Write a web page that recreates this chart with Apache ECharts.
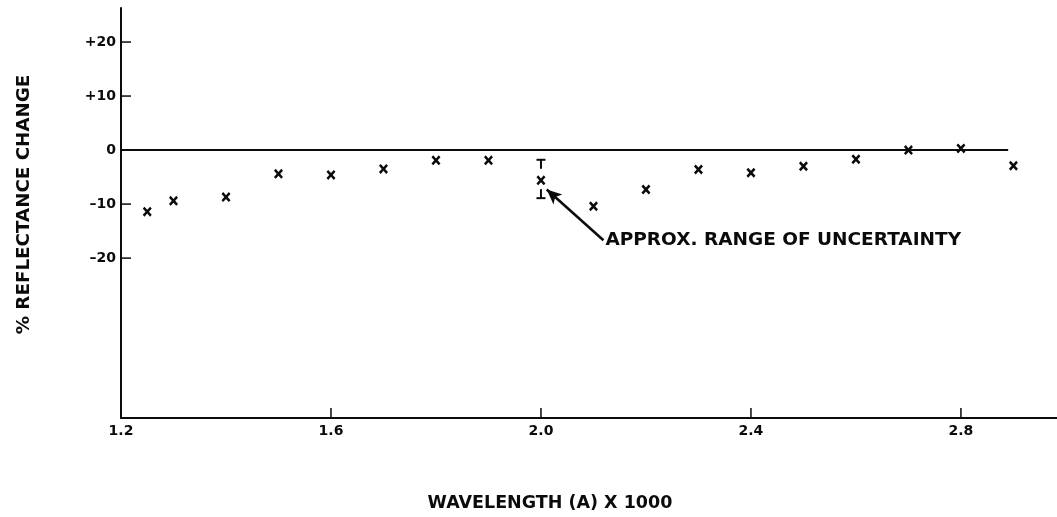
<!DOCTYPE html>
<html>
<head>
<meta charset="utf-8">
<script src="https://cdn.jsdelivr.net/npm/echarts@6/dist/echarts.min.js"></script>
<style>
  html, body { margin: 0; padding: 0; background: #ffffff; }
  #chart { width: 1057px; height: 517px; }
</style>
</head>
<body>
<div id="chart"></div>
<script>
// Measured reflectance change versus wavelength (microns, shown as A x 1000)
const wavelengths = [1.25, 1.3, 1.4, 1.5, 1.6, 1.7, 1.8, 1.9, 2.0, 2.1, 2.2, 2.3, 2.4, 2.5, 2.6, 2.7, 2.8, 2.9];
const reflectanceChange = [-11.4, -9.4, -8.7, -4.4, -4.6, -3.5, -1.9, -1.9, -5.6, -10.4, -7.3, -3.6, -4.2, -3.0, -1.7, 0.0, 0.3, -2.9];

// Uncertainty range drawn at 2.0
const uncertaintyX = [2.0];
const uncertaintyLow = [-8.9];
const uncertaintyHigh = [-1.8];

// Axis ticks
const xTicks = [1.2, 1.6, 2.0, 2.4, 2.8];
const yTicks = [-20, -10, 0, 10, 20];

// Callout
const calloutText = 'APPROX. RANGE OF UNCERTAINTY';
const calloutTip = [2.011, -7.3];
const calloutTail = [2.119, -16.7];

const X_MIN = 1.2, X_MAX = 2.983;
const Y_MIN = -49.6, Y_MAX = 26.3;

const INK = '#0b0b0b';
const FONT = '"DejaVu Sans", "Liberation Sans", sans-serif';

const chart = echarts.init(document.getElementById('chart'), null, { renderer: 'canvas' });

const pointData = wavelengths.map((w, i) => [w, reflectanceChange[i]]);
const rangeData = uncertaintyX.map((x, i) => [x, uncertaintyLow[i], uncertaintyHigh[i]]);

// Tick marks point inward from both axes
const tickData = xTicks.filter(v => v > X_MIN).map(v => [v, Y_MIN, 0])
  .concat(yTicks.map(v => [X_MIN, v, 1]));

// Bold "x" marker
const crossPath = 'path://M0,1.9L1.9,0L5,3.1L8.1,0L10,1.9L6.9,5L10,8.1L8.1,10L5,6.9L1.9,10L0,8.1L3.1,5Z';

chart.setOption({
  animation: false,
  backgroundColor: '#ffffff',
  grid: { left: 121, right: 0, top: 8, bottom: 99, containLabel: false },
  xAxis: {
    type: 'value',
    min: X_MIN,
    max: X_MAX,
    name: 'WAVELENGTH (A) X 1000',
    nameLocation: 'middle',
    nameGap: 76,
    nameTextStyle: { fontFamily: FONT, fontWeight: 'bold', fontSize: 17.5, color: INK, padding: [0, 78, 0, 0] },
    axisLine: { onZero: false, lineStyle: { color: INK, width: 2 } },
    axisTick: { show: false },
    axisLabel: {
      customValues: xTicks,
      formatter: v => v.toFixed(1),
      margin: 6,
      fontFamily: FONT, fontWeight: 'bold', fontSize: 14, color: INK
    },
    splitLine: { show: false }
  },
  yAxis: {
    type: 'value',
    min: Y_MIN,
    max: Y_MAX,
    name: '% REFLECTANCE CHANGE',
    nameLocation: 'middle',
    nameRotate: 90,
    nameGap: 88,
    nameTextStyle: { fontFamily: FONT, fontWeight: 'bold', fontSize: 18.3, color: INK, padding: [0, 0, 0, 17] },
    axisLine: { lineStyle: { color: INK, width: 2 } },
    axisTick: { show: false },
    axisLabel: {
      customValues: yTicks,
      formatter: v => (v > 0 ? '+' + v : v < 0 ? '\u2013' + Math.abs(v) : '0'),
      margin: 5,
      fontFamily: FONT, fontWeight: 'bold', fontSize: 14, color: INK
    },
    splitLine: { show: false }
  },
  series: [
    {
      name: 'ticks',
      type: 'custom',
      data: tickData,
      silent: true,
      clip: false,
      renderItem: (params, api) => {
        const p = api.coord([api.value(0), api.value(1)]);
        const vertical = api.value(2) === 0;
        const len = 10;
        return {
          type: 'line',
          shape: vertical
            ? { x1: p[0], y1: p[1], x2: p[0], y2: p[1] - len }
            : { x1: p[0], y1: p[1], x2: p[0] + len, y2: p[1] },
          style: { stroke: INK, lineWidth: 1.5 }
        };
      }
    },
    {
      name: 'zero',
      type: 'line',
      data: [],
      silent: true,
      markLine: {
        silent: true,
        symbol: ['none', 'none'],
        label: { show: false },
        lineStyle: { color: INK, width: 2, type: 'solid' },
        data: [[{ coord: [1.2, 0] }, { coord: [2.89, 0] }]]
      }
    },
    {
      name: 'reflectance',
      type: 'scatter',
      data: pointData,
      symbol: crossPath,
      symbolSize: [9, 10],
      itemStyle: { color: INK, opacity: 1 }
    },
    {
      name: 'uncertainty',
      type: 'custom',
      data: rangeData,
      renderItem: (params, api) => {
        const top = api.coord([api.value(0), api.value(2)]);
        const bot = api.coord([api.value(0), api.value(1)]);
        const half = 4.5, stem = 9;
        const style = { stroke: INK, lineWidth: 2 };
        return {
          type: 'group',
          children: [
            { type: 'line', shape: { x1: top[0] - half, y1: top[1], x2: top[0] + half, y2: top[1] }, style },
            { type: 'line', shape: { x1: top[0], y1: top[1], x2: top[0], y2: top[1] + stem }, style },
            { type: 'line', shape: { x1: bot[0] - half, y1: bot[1], x2: bot[0] + half, y2: bot[1] }, style },
            { type: 'line', shape: { x1: bot[0], y1: bot[1], x2: bot[0], y2: bot[1] - stem }, style }
          ]
        };
      }
    },
    {
      name: 'callout',
      type: 'scatter',
      data: [calloutTail],
      symbolSize: 0,
      silent: true,
      itemStyle: { opacity: 1 },
      label: {
        show: true,
        position: 'right',
        distance: 2,
        formatter: calloutText,
        fontFamily: FONT, fontWeight: 'bold', fontSize: 18.5, color: INK
      },
      markLine: {
        silent: true,
        symbol: ['none', 'arrow'],
        symbolSize: [10, 15],
        label: { show: false },
        lineStyle: { color: INK, width: 2.5, type: 'solid', opacity: 1 },
        data: [[{ coord: calloutTail }, { coord: calloutTip }]]
      }
    }
  ]
});
</script>
</body>
</html>
